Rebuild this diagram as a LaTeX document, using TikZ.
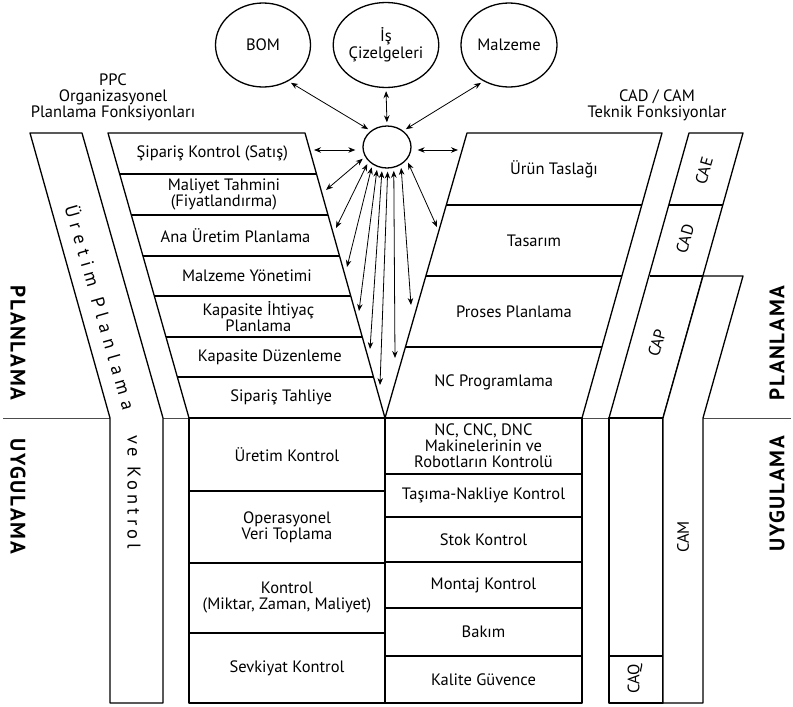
\documentclass[tikz,border=0pt]{standalone}
\usepackage{fontspec}
\setmainfont{PT Sans}
\usetikzlibrary{arrows.meta,shapes.geometric}
\begin{document}
\begin{tikzpicture}[x=1pt,y=-1pt,line join=round,
  box/.style={draw=black,line width=1.3pt,fill=white},
  sep/.style={draw=black!70,line width=0.8pt},
  lbl/.style={font=\fontsize{16.5}{16}\selectfont,align=center,inner sep=0pt},
  bub/.style={draw,ellipse,line width=1.3pt,inner sep=0pt,align=center,font=\fontsize{16.5}{17}\selectfont},
  band/.style={font=\fontsize{18.5}{20}\selectfont\addfontfeature{LetterSpace=22},inner sep=0pt},
  big/.style={font=\fontsize{21}{23}\selectfont\bfseries\addfontfeature{LetterSpace=8},inner sep=0pt},
  link/.style={{Stealth[length=7pt,width=5.5pt]}-{Stealth[length=7pt,width=5.5pt]},line width=0.8pt,shorten >=3pt,shorten <=3pt}]
\useasboundingbox (0,0) rectangle (793,707);
% separator
\draw[sep] (3,418) -- (791,418);
% left band
\draw[box] (30,133) -- (82,133) -- (163,418) -- (163,703) -- (110,703) -- (110,418) -- cycle;
% left column
\draw[box] (108,133) -- (305,133) -- (385,418) -- (189,418) -- cycle;
\draw[box] (189,418) rectangle (385,703);
\foreach \ya/\xa/\xb in {174/119.65/316.5,215/131.3/328.0,256/143.0/339.5,296/154.3/350.8,337/166.0/362.3,377/177.3/373.5}
  \draw[line width=1.3pt] (\xa,\ya) -- (\xb,\ya);
\foreach \ya in {491,563,633}
  \draw[line width=1.3pt] (189,\ya) -- (385,\ya);
% right column
\draw[box] (467,133) -- (662,133) -- (582,418) -- (385,418) -- cycle;
\draw[box] (385,418) rectangle (582,703);
\foreach \ya/\xa/\xb in {205/446.3/641.8,276/425.9/621.9,347/405.4/601.9}
  \draw[line width=1.3pt] (\xa,\ya) -- (\xb,\ya);
\foreach \ya in {474,517,562,608,656}
  \draw[line width=1.3pt] (385,\ya) -- (582,\ya);
% CAE / CAD / CAP band
\draw[box] (689,133) -- (743,133) -- (663,418) -- (609,418) -- cycle;
\draw[line width=1.3pt] (668.8,205) -- (722.8,205);
\draw[line width=1.3pt] (649.9,276) -- (702.9,276);
\draw[box] (609,418) rectangle (663,703);
\draw[line width=1.3pt] (609,656) -- (663,656);
% CAM
\draw[box] (703,276) -- (743,276) -- (703,418) -- (703,703) -- (663,703) -- (663,418) -- cycle;

% bubbles
\node[bub,minimum width=95pt,minimum height=84pt] (bom) at (263,45) {BOM};
\node[bub,minimum width=94pt,minimum height=85pt] (isc) at (386,45) {İş\\Çizelgeleri};
\node[bub,minimum width=96pt,minimum height=84pt] (malz) at (509,45) {Malzeme};
\node[draw,ellipse,line width=1.3pt,minimum width=48pt,minimum height=42pt,inner sep=0pt] (hub) at (387,147) {};

% headings
\node[lbl] (ppc) at (113,97) {PPC\\Organizasyonel\\Planlama Fonksiyonları};
\node[lbl] (cadcam) at (657,105) {CAD / CAM\\Teknik Fonksiyonlar};

% left rows
\node[lbl] (l1) at (212.3,153.5) {Şipariş Kontrol (Satış)};
\node[lbl] (l2) at (223.9,194.5) {Maliyet Tahmini\\(Fiyatlandırma)};
\node[lbl] (l3) at (235.5,235.5) {Ana Üretim Planlama};
\node[lbl] (l4) at (246.9,276) {Malzeme Yönetimi};
\node[lbl] (l5) at (258.4,316.5) {Kapasite İhtiyaç\\Planlama};
\node[lbl] (l6) at (269.8,357) {Kapasite Düzenleme};
\node[lbl] (l7) at (281.2,397.5) {Sipariş Tahliye};
\node[lbl] (m1) at (287,454.5) {Üretim Kontrol};
\node[lbl] (m2) at (287,527) {Operasyonel\\Veri Toplama};
\node[lbl] (m3) at (287,598) {Kontrol\\(Miktar, Zaman, Maliyet)};
\node[lbl] (m4) at (287,668) {Sevkiyat Kontrol};
% right rows
\node[lbl] (r1) at (554,169) {Ürün Taslağı};
\node[lbl] (r2) at (534,240.5) {Tasarım};
\node[lbl] (r3) at (514,311.5) {Proses Planlama};
\node[lbl] (r4) at (493.6,382.5) {NC Programlama};
\node[lbl] (s1) at (483.5,446) {NC, CNC, DNC\\Makinelerinin ve\\Robotların Kontrolü};
\node[lbl] (s2) at (483.5,495.5) {Taşıma-Nakliye Kontrol};
\node[lbl] (s3) at (483.5,539.5) {Stok Kontrol};
\node[lbl] (s4) at (483.5,585) {Montaj Kontrol};
\node[lbl] (s5) at (483.5,632) {Bakım};
\node[lbl] (s6) at (483.5,679.5) {Kalite Güvence};
% band labels
\node[lbl,rotate=74] (cae) at (704,171) {CAE};
\node[lbl,rotate=74] (cad) at (685,239) {CAD};
\node[lbl,rotate=74] (cap) at (657,343) {CAP};
\node[lbl,rotate=90] (cam) at (683,537) {CAM};
\node[lbl,rotate=90] (caq) at (635,679) {CAQ};
\node[band,rotate=-74,font=\fontsize{18.5}{20}\selectfont\addfontfeature{LetterSpace=33}] (upk1) at (101,307) {Üretim Planlama};
\node[band,rotate=-90] (upk2) at (134,492) {ve Kontrol};
% side labels
\node[big,rotate=-90] (pl1) at (18,343) {PLANLAMA};
\node[big,rotate=-90] (uy1) at (18,496) {UYGULAMA};
\node[big,rotate=90] (pl2) at (777,343) {PLANLAMA};
\node[big,rotate=90] (uy2) at (777,494) {UYGULAMA};

% arrows
\coordinate (cS) at (311,150);
\coordinate (cU) at (461,150);
\coordinate (f1) at (326,190);
\coordinate (f2) at (336,228);
\coordinate (f3) at (347,267);
\coordinate (f4) at (359,311);
\coordinate (f5) at (370,349);
\coordinate (f6) at (380,385);
\coordinate (f7) at (395,358);
\coordinate (f8) at (411,305);
\coordinate (f9) at (437,227);
\draw[link] (bom.305) -- (hub.135);
\draw[link] (isc.270) -- (hub.90);
\draw[link] (malz.235) -- (hub.45);
\draw[link,shorten >=7pt] (cS) -- (cS -| hub.west);
\draw[link,shorten >=6pt] (cU) -- (cU -| hub.east);
\foreach \c/\a in {f1/204,f2/218,f3/230,f4/244,f5/257,f6/272,f7/288,f8/308,f9/327}
  \draw[link,shorten >=0pt] (hub.\a) -- (\c);
\end{tikzpicture}
\end{document}
